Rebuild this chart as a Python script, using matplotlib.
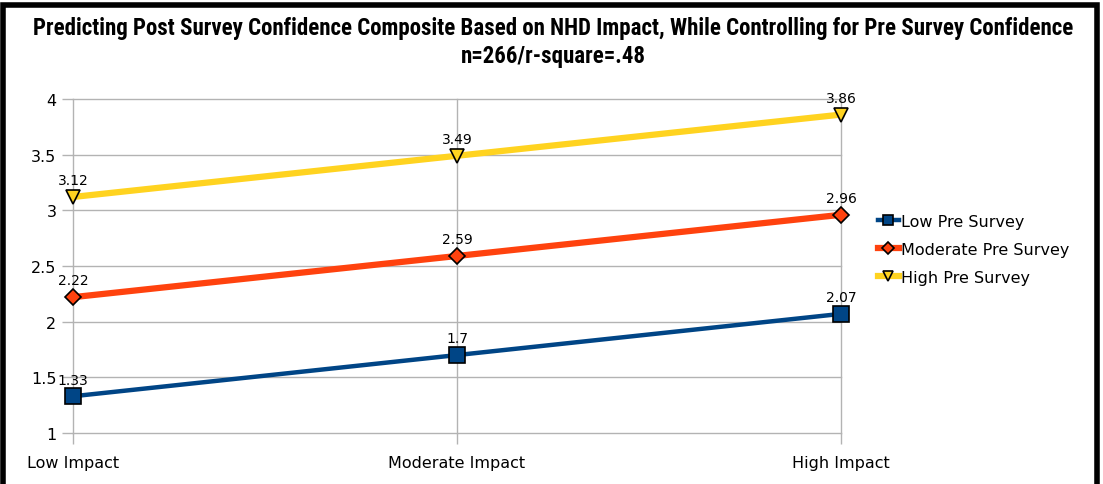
import matplotlib
matplotlib.use("Agg")
import matplotlib.pyplot as plt
from matplotlib.patches import Rectangle
from matplotlib import font_manager

categories = ["Low Impact", "Moderate Impact", "High Impact"]
low_pre = [1.33, 1.70, 2.07]
moderate_pre = [2.22, 2.59, 2.96]
high_pre = [3.12, 3.49, 3.86]
series_names = ["Low Pre Survey", "Moderate Pre Survey", "High Pre Survey"]
yticks = [1, 1.5, 2, 2.5, 3, 3.5, 4]

# condensed face if one is around, else plain
names = sorted({f.name for f in font_manager.fontManager.ttflist})
title_fam = "DejaVu Sans"
for cand in ["Liberation Sans Narrow", "DejaVu Sans Condensed", "Roboto Condensed", "Open Sans Condensed"]:
    if cand in names:
        title_fam = cand
        break

fig = plt.figure(figsize=(11.03, 4.85), dpi=100)
ax = fig.add_axes([73/1103, 1-434/485, (841-73)/1103, (434-100)/485])

x = list(range(len(categories)))
styles = [
    (low_pre, "#004586", 3.2, "s", 11),
    (moderate_pre, "#ff420e", 4.5, "D", 8.5),
    (high_pre, "#ffd320", 4.5, "v", 10),
]
for (vals, col, lw, mk, ms), name in zip(styles, series_names):
    ax.plot(x, vals, color=col, lw=lw, marker=mk, ms=ms, mfc=col,
            mec="black", mew=1.2, label=name, clip_on=False, zorder=3)
    for xi, v in zip(x, vals):
        ax.annotate(("%g" % v), (xi, v), xytext=(0, 7), textcoords="offset points",
                    ha="center", va="bottom", fontsize=10, zorder=4)

ax.set_xlim(0, 2)
ax.set_ylim(1, 4)
ax.set_yticks(yticks)
ax.set_yticklabels(["%g" % t for t in yticks])
ax.set_xticks(x)
ax.set_xticklabels(categories)
ax.grid(True, color="#b3b3b3", lw=1.0)
ax.set_axisbelow(True)
for gl in ax.get_xgridlines() + ax.get_ygridlines():
    gl.set_clip_on(False)
for s in ax.spines.values():
    s.set_visible(False)
ax.tick_params(axis="both", colors="#b3b3b3", labelcolor="black", labelsize=11.5,
               length=8, width=1.0)
ax.tick_params(axis="x", pad=8)
ax.tick_params(axis="y", pad=4)

leg = ax.legend(loc="center left", bbox_to_anchor=(1.04, 0.55), frameon=False,
                fontsize=11.5, handlelength=1.3, handletextpad=0.15,
                labelspacing=0.8, borderaxespad=0, markerscale=0.7)

if title_fam == "DejaVu Sans":
    tsize = 12.5
else:
    tsize = 16.5
fig.text(553/1103, 1-28/485, "Predicting Post Survey Confidence Composite Based on NHD Impact, While Controlling for Pre Survey Confidence",
         ha="center", va="center", fontsize=tsize, fontweight="bold", family=title_fam)
fig.text(553/1103, 1-57/485, "n=266/r-square=.48",
         ha="center", va="center", fontsize=tsize, fontweight="bold", family=title_fam)

fig.patches.append(Rectangle((3/1103, -0.05), (1097-3)/1103, 1-6/485+0.05,
                             transform=fig.transFigure, fill=False,
                             ec="black", lw=4, zorder=10))

fig.savefig("out.png", dpi=100)
